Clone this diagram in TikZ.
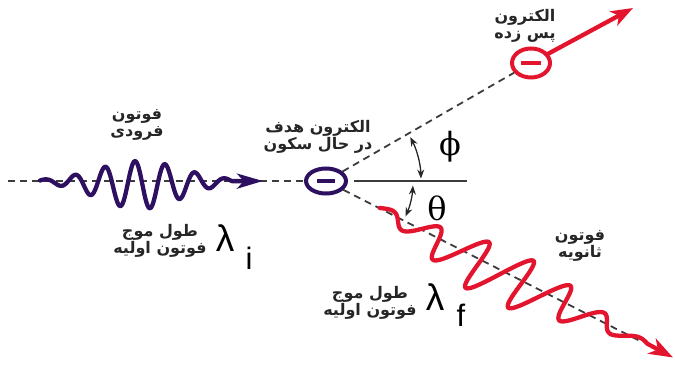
\documentclass[tikz,border=0pt]{standalone}
\usepackage{fontspec}
\usetikzlibrary{arrows.meta,shapes.geometric}
\TeXXeTstate=1
\newfontfamily\arabicfont[Script=Arabic]{DejaVu Sans}
\newfontfamily\lamfont{Liberation Sans}
\newfontfamily\grkfont{DejaVu Serif}
\definecolor{phpurple}{HTML}{2E1060}
\definecolor{phred}{HTML}{E3152E}
\definecolor{dashgray}{HTML}{3C3C3C}
\begin{document}
\begin{tikzpicture}[x=1pt,y=-1pt,
  declare function={gi(\u)=exp(-((\u-140)/60)*((\u-140)/60));
                    gs(\u)=exp(-((\u-205)/100)*((\u-205)/100));
                    rs(\u)=gs(\u)*(5-28*sin(7.66*(\u-151.9)));
                    rt(\u)=\u-0.44*rs(\u);},
  fa/.style={font=\arabicfont\bfseries\fontsize{16}{17.5}\selectfont, align=center, inner sep=0pt, text=black!85},
  dashline/.style={draw=dashgray, line width=1.8pt, dash pattern=on 7pt off 5pt},
  electron/.style={ellipse, draw, line width=4pt, inner sep=0pt, minimum width=40pt, minimum height=25pt},
  minusbar/.style={line width=3.5pt},
  angarr/.style={draw=black!85, line width=1.3pt, arrows={Stealth[length=9pt,width=7pt]-Stealth[length=9pt,width=7pt]}},
  wave/.style={line width=4.3pt, line join=round, line cap=round},
  grk/.style={font=\grkfont\fontsize{32}{32}\selectfont, inner sep=0pt},
  lam/.style={font=\lamfont\fontsize{37}{37}\selectfont, inner sep=0pt},
  sub/.style={font=\lamfont\fontsize{31}{31}\selectfont, inner sep=0pt}
]
\useasboundingbox (0,0) rectangle (675,367);

% coordinates
\coordinate (lstart) at (8,181);
\coordinate (inTip) at (263,181);
\coordinate (hstart) at (354,181);
\coordinate (hend) at (467,181);
\coordinate (dashEnd) at (640,341);
\coordinate (phTip) at (673,357.5);
\coordinate (reTip) at (633,8);

% electrons
\node[electron, draw=phpurple] (target) at (326,181) {};
\node[electron, draw=phred, minimum width=38pt, minimum height=29pt] (recoil) at (531,63) {};
\draw[minusbar, phpurple] ([xshift=-9pt]target.center) -- ([xshift=9pt]target.center);
\draw[minusbar, phred] ([xshift=-10pt]recoil.center) -- ([xshift=10pt]recoil.center);

% dashed lines
\draw[dashline] (lstart) -- (target.west);
\draw[dashline] (target) -- (recoil);
\draw[dashline] (target) -- (dashEnd);
\draw[draw=dashgray, line width=1.5pt] (hstart) -- (hend);

% incident photon
\draw[wave, phpurple, arrows={-Stealth[length=26pt,width=15pt,inset=7pt]}]
  plot[domain=40:232, samples=240, smooth, variable=\u]
  (\u, {181 + gi(\u)*(4 - 24*sin(12*(\u-127.5)))}) -- (inTip);

% scattered photon
\draw[wave, phred, arrows={-Stealth[length=24pt,width=17pt,inset=7pt]}]
  plot[domain=60:360, samples=300, smooth, variable=\u]
  ({326 + 0.8913*rt(\u) - 0.4534*rs(\u)}, {181 + 0.4534*rt(\u) + 0.8913*rs(\u)}) -- (phTip);

% recoil electron path
\draw[wave, phred, arrows={-Stealth[length=22pt,width=16pt,inset=6pt]}] (recoil) -- (reTip);

% angles
\draw[angarr] (target.center) ++(-27.5:95) arc[start angle=-27.5, end angle=-1.5, radius=95];
\draw[angarr] (target.center) ++(3:87) arc[start angle=3, end angle=24, radius=87];
\node[grk] (phi) at (450,147) {ϕ};
\node[grk] (theta) at (437,208) {θ};

% wavelengths
\node[lam] (lami) at (225,238) {λ};
\node[sub] (subi) at (249,258) {i};
\node[lam] (lamf) at (435,297) {λ};
\node[sub] (subf) at (461,315) {f};

% labels
\node[fa] (tin) at (137,125) {\beginR فوتون\endR\\\beginR فرودی\endR};
\node[fa] (ttar) at (318,137) {\beginR الکترون هدف\endR\\\beginR در حال سکون\endR};
\node[fa] (trec) at (525,26) {\beginR الکترون\endR\\\beginR پس زده\endR};
\node[fa] (tsc) at (580,246) {\beginR فوتون\endR\\\beginR ثانویه\endR};
\node[fa] (twi) at (160,241) {\beginR طول موج\endR\\\beginR فوتون اولیه\endR};
\node[fa] (twf) at (370,303) {\beginR طول موج\endR\\\beginR فوتون اولیه\endR};
\end{tikzpicture}
\end{document}
